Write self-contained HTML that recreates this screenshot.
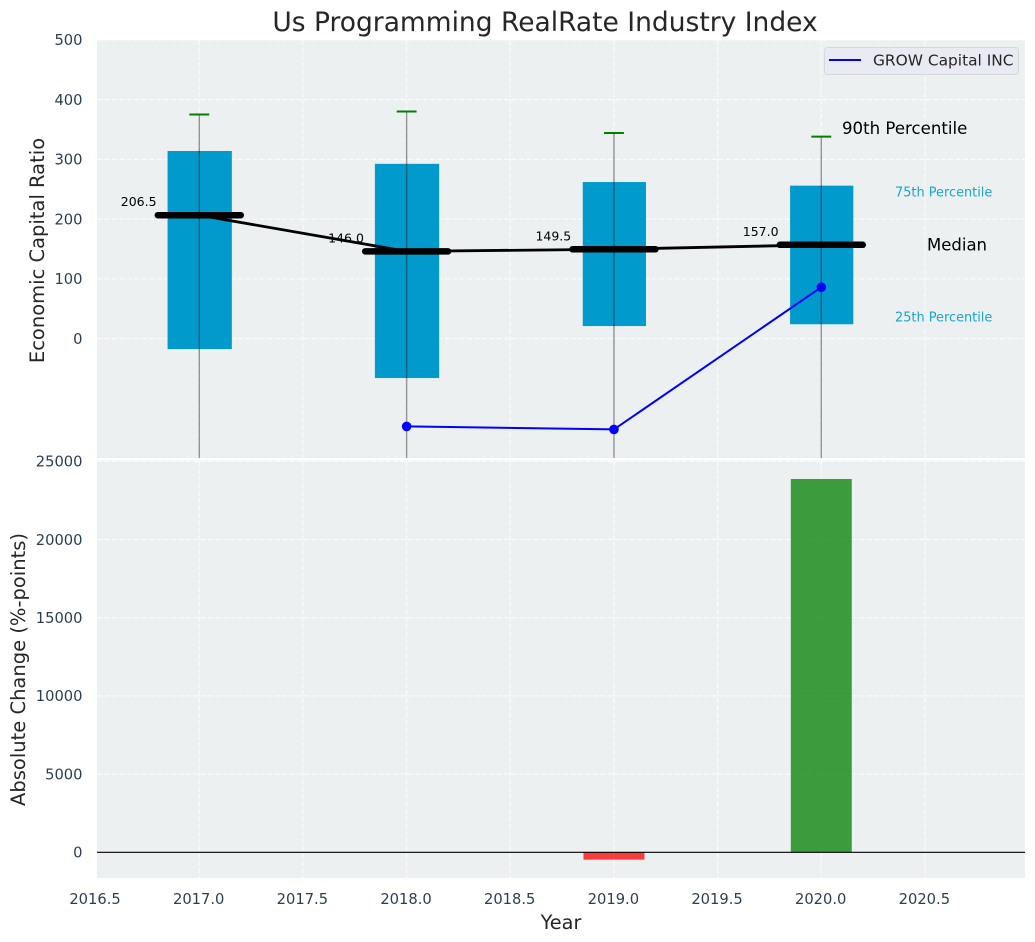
<!DOCTYPE html>
<html lang="en">
<head>
<meta charset="utf-8">
<title>Us Programming RealRate Industry Index</title>
<style>
html,body{margin:0;padding:0;background:#fff;}
svg{display:block;font-family:"DejaVu Sans","Liberation Sans",sans-serif;}
</style>
</head>
<body>
<svg id="chart" xmlns="http://www.w3.org/2000/svg" width="1035" height="942" viewBox="0 0 1035 942">
  <rect x="0" y="0" width="1035" height="942" fill="#ffffff"/>
  <rect x="97" y="40" width="928" height="418" fill="#ecf0f1"/>
  <rect x="97" y="460.5" width="928" height="417.5" fill="#ecf0f1"/>
  <defs>
    <clipPath id="clip-top"><rect x="97" y="40" width="928" height="418"/></clipPath>
    <clipPath id="clip-bottom"><rect x="97" y="460.5" width="928" height="417.5"/></clipPath>
  </defs>
  <g id="top-grid" clip-path="url(#clip-top)"></g>
  <g id="bottom-grid" clip-path="url(#clip-bottom)"></g>
  <g id="top-marks" clip-path="url(#clip-top)"></g>
  <g id="bottom-marks" clip-path="url(#clip-bottom)"></g>
  <g id="tick-labels" font-size="14.7" fill="#2c3e50"></g>
  <g id="median-labels" font-size="12.5" fill="#000000" text-anchor="end"></g>

  <text x="545" y="31" font-size="26.5" fill="#262626" text-anchor="middle">Us Programming RealRate Industry Index</text>
  <text transform="translate(44,250.5) rotate(-90)" font-size="19.5" fill="#262626" text-anchor="middle">Economic Capital Ratio</text>
  <text transform="translate(25,669.5) rotate(-90)" font-size="19.5" fill="#262626" text-anchor="middle">Absolute Change (%-points)</text>
  <text x="561" y="929" font-size="19.3" fill="#262626" text-anchor="middle">Year</text>

  <text x="842" y="134" font-size="16.6" fill="#000000">90th Percentile</text>
  <text x="895" y="196.5" font-size="12.9" fill="#1ba3d0">75th Percentile</text>
  <text x="927" y="250.5" font-size="16.5" fill="#000000">Median</text>
  <text x="895" y="321.5" font-size="12.9" fill="#1ba3d0">25th Percentile</text>

  <g>
    <rect x="824.5" y="47.5" width="194" height="27" rx="3" ry="3" fill="#eaeaf2" stroke="#d5d8dc" stroke-width="1"/>
    <line x1="829" y1="60" x2="861" y2="60" stroke="#0000ff" stroke-width="2"/>
    <text x="873" y="65.5" font-size="15.4" fill="#262626">GROW Capital INC</text>
  </g>
</svg>
<script>
// Chart data
const years = [2017, 2018, 2019, 2020];
const p90 = [375, 380, 344, 338];
const p75 = [314, 292.5, 262, 256];
const medians = [206.5, 146.0, 149.5, 157.0];
const medianLabels = ["206.5", "146.0", "149.5", "157.0"];
const p25 = [-17.5, -66, 21, 24];
const p10 = [-320, -340, -300, -290];
const boxWidths = [0.31, 0.31, 0.305, 0.305];
const growYears = [2018, 2019, 2020];
const growValues = [-147, -152, 86];
const changeYears = [2019, 2020];
const changeValues = [-470, 23870];
const xTicks = [2016.5, 2017, 2017.5, 2018, 2018.5, 2019, 2019.5, 2020, 2020.5];
const xTickLabels = ["2016.5", "2017.0", "2017.5", "2018.0", "2018.5", "2019.0", "2019.5", "2020.0", "2020.5"];
const topYTicks = [0, 100, 200, 300, 400, 500];
const bottomYTicks = [0, 5000, 10000, 15000, 20000, 25000];

const NS = "http://www.w3.org/2000/svg";
const xScale = v => 199.3 + (v - 2017) * 207.33;
const yTop = v => 338.6 - v * 0.5975;
const yBottom = v => 852.3 - v * 0.01564;

function make(parent, tag, attrs) {
  const el = document.createElementNS(NS, tag);
  for (const k in attrs) el.setAttribute(k, attrs[k]);
  parent.appendChild(el);
  return el;
}
const gridStyle = { stroke: "#ffffff", "stroke-width": 1.2, "stroke-dasharray": "5.3 2.1", "stroke-opacity": 0.72 };

const topGrid = document.getElementById("top-grid");
const bottomGrid = document.getElementById("bottom-grid");
const topMarks = document.getElementById("top-marks");
const bottomMarks = document.getElementById("bottom-marks");
const tickLabels = document.getElementById("tick-labels");
const medianLabelGroup = document.getElementById("median-labels");

// Vertical grid lines and x tick labels
xTicks.forEach((t, i) => {
  const x = xScale(t);
  if (x >= 97) {
    const g1 = make(topGrid, "line", Object.assign({ x1: x, x2: x, y1: 40, y2: 458 }, gridStyle));
    
    
    const g2 = make(bottomGrid, "line", Object.assign({ x1: x, x2: x, y1: 461, y2: 878 }, gridStyle));
    
    
  }
  const lab = make(tickLabels, "text", { x: x - 0.6, y: 904, "text-anchor": "middle" });
  lab.textContent = xTickLabels[i];
  
  
});

// Top panel horizontal grid and y tick labels
topYTicks.forEach(t => {
  const y = yTop(t);
  const g = make(topGrid, "line", Object.assign({ x1: 97, x2: 1025, y1: y, y2: y }, gridStyle));
  
  
  const lab = make(tickLabels, "text", { x: 82.5, y: y + 5.3, "text-anchor": "end" });
  lab.textContent = String(t);
  
  
});

// Bottom panel horizontal grid and y tick labels
bottomYTicks.forEach(t => {
  const y = yBottom(t);
  const g = make(bottomGrid, "line", Object.assign({ x1: 97, x2: 1025, y1: y, y2: y }, gridStyle));
  
  
  const lab = make(tickLabels, "text", { x: 82.5, y: y + 5.3, "text-anchor": "end" });
  lab.textContent = String(t);
  
  
});

// Percentile boxes
years.forEach((yr, i) => {
  const half = boxWidths[i] / 2;
  const box = make(topMarks, "rect", {
    x: xScale(yr - half) + 0.4,
    y: yTop(p75[i]),
    width: xScale(yr + half) - xScale(yr - half),
    height: yTop(p25[i]) - yTop(p75[i]),
    fill: "#009acd"
  });
  
  
});

// Whiskers
years.forEach((yr, i) => {
  const w = make(topMarks, "line", {
    x1: xScale(yr), x2: xScale(yr), y1: yTop(p90[i]), y2: yTop(p10[i]),
    stroke: "#000000", "stroke-opacity": 0.4, "stroke-width": 1.4
  });
  
  
  const cap = make(topMarks, "line", {
    x1: xScale(yr - 0.048), x2: xScale(yr + 0.048), y1: yTop(p90[i]), y2: yTop(p90[i]),
    stroke: "#008000", "stroke-width": 2
  });
  
  
});

// Median trend line
const trend = make(topMarks, "polyline", {
  points: years.map((yr, i) => xScale(yr) + "," + yTop(medians[i])).join(" "),
  fill: "none", stroke: "#000000", "stroke-width": 2.8
});



// Median bars and labels
years.forEach((yr, i) => {
  const m = make(topMarks, "line", {
    x1: xScale(yr - 0.2), x2: xScale(yr + 0.2), y1: yTop(medians[i]), y2: yTop(medians[i]),
    stroke: "#000000", "stroke-width": 6.5, "stroke-linecap": "round"
  });
  
  
  const lab = make(medianLabelGroup, "text", { x: xScale(yr - 0.206), y: yTop(medians[i]) - 9 });
  lab.textContent = medianLabels[i];
  
  
});

// GROW Capital INC series
const growLine = make(topMarks, "polyline", {
  points: growYears.map((yr, i) => xScale(yr) + "," + yTop(growValues[i])).join(" "),
  fill: "none", stroke: "#0000ff", "stroke-width": 2
});


growYears.forEach((yr, i) => {
  const pt = make(topMarks, "circle", { cx: xScale(yr), cy: yTop(growValues[i]), r: 4.8, fill: "#0000ff" });
  
  
});

// Absolute change bars
changeYears.forEach((yr, i) => {
  const v = changeValues[i];
  const top = yBottom(Math.max(v, 0));
  const bottom = yBottom(Math.min(v, 0));
  const bar = make(bottomMarks, "rect", {
    x: xScale(yr - 0.147), y: top,
    width: xScale(yr + 0.147) - xScale(yr - 0.147), height: bottom - top,
    fill: v >= 0 ? "#008000" : "#ff0000", "fill-opacity": 0.75
  });
  
  
});

// Zero baseline
const zero = make(bottomMarks, "line", { x1: 97, x2: 1025, y1: yBottom(0), y2: yBottom(0), stroke: "#000000", "stroke-width": 1.2 });


</script>
</body>
</html>
